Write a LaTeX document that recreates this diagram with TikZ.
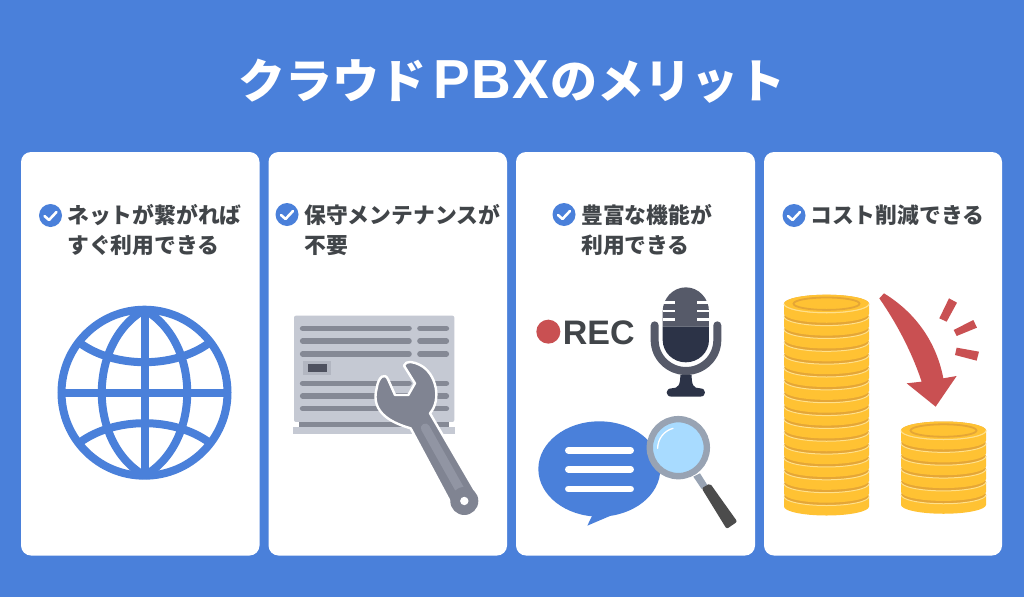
\documentclass[tikz,border=0pt]{standalone}
\usepackage{fontspec}
\newfontfamily\jpfont{Noto Sans CJK JP}
\setsansfont{Liberation Sans}
\usetikzlibrary{calc, positioning}
\definecolor{bgblue}{HTML}{4A80DA}
\definecolor{inkgray}{HTML}{414549}
\definecolor{panelgray}{HTML}{C5C9D3}
\definecolor{slotgray}{HTML}{858995}
\definecolor{wrenchgray}{HTML}{808492}
\definecolor{wrenchlight}{HTML}{9195A3}
\definecolor{micgray}{HTML}{565A69}
\definecolor{micdark}{HTML}{2C3347}
\definecolor{recred}{HTML}{C95052}
\definecolor{lensblue}{HTML}{A8DBFF}
\definecolor{ringgray}{HTML}{98A3B3}
\definecolor{coingold}{HTML}{FFC233}
\definecolor{coindark}{HTML}{E5A636}
\definecolor{coinlight}{HTML}{FFE08A}
\tikzset{
	card/.style={fill=white, draw=none, rounded corners=10pt},
	cardtext/.style={font=\jpfont\bfseries\fontsize{21.8}{30}\selectfont, text=inkgray, align=left, anchor=north west, inner sep=0pt},
	tick/.style={fill=bgblue, draw=none},
	slot/.style={line width=5.6pt, line cap=round, draw=slotgray},
	globeline/.style={line width=8pt, draw=bgblue},
}
% one coin of a stack, centre of its top face at (#1,#2)
\newcommand{\coinat}[2]{
	\fill[coingold] (#1-42.5,#2) -- (#1-42.5,#2+10) arc[start angle=180, end angle=0, x radius=42.5, y radius=9] -- (#1+42.5,#2) -- cycle;
	\fill[coindark] (#1,#2) ellipse[x radius=42.5, y radius=9];
	\draw[coinlight, line width=1pt] (#1-42.5,#2) arc[start angle=180, end angle=0, x radius=42.5, y radius=9];
}
\newcommand{\cointop}[2]{
	\fill[coingold] (#1,#2) ellipse[x radius=42.5, y radius=9];
	\draw[coindark, line width=1.8pt] (#1,#2) ellipse[x radius=33, y radius=6.2];
	\draw[coinlight, line width=1pt] (#1-42.5,#2) arc[start angle=180, end angle=0, x radius=42.5, y radius=9];
}
\newcommand{\tickmark}[2]{
	\fill[tick] (#1,#2) circle (11.5);
	\draw[white, line width=2.6pt, line cap=round, line join=round] (#1-6,#2+.5) -- (#1-1.5,#2+4.5) -- (#1+6,#2-3.5);
}

\begin{document}
\begin{tikzpicture}[x=1pt, y=-1pt]
	\fill[bgblue] (0,0) rectangle (1024,597);
	\useasboundingbox (0,0) rectangle (1024,597);

	\node[font=\jpfont\bfseries\fontsize{47}{47}\selectfont, text=white, inner sep=0pt] (title) at (512,81) {クラウド\hspace{7pt}{\sffamily\fontsize{55}{55}\selectfont P\hspace{1.5pt}B\hspace{1.5pt}X}\hspace{1pt}のメリット};

	\fill[card] (21,152) rectangle (259.5,555.5);
	\fill[card] (268.5,152) rectangle (507,555.5);
	\fill[card] (516,152) rectangle (755,555.5);
	\fill[card] (764,152) rectangle (1002,555.5);

	\tickmark{50.5}{215.5}
	\tickmark{287}{214.5}
	\tickmark{564}{214.5}
	\tickmark{794}{215.5}
	\node[cardtext] (netlabel) at (67,204) {ネットが繋がれば\\すぐ利用できる};
	\node[cardtext] (maintlabel) at (304,204) {保守メンテナンスが\\不要};
	\node[cardtext] (funclabel) at (581,204) {豊富な機能が\\利用できる};
	\node[cardtext] (costlabel) at (810,205) {コスト削減できる};

	% globe
	\begin{scope}[shift={(144.5,392.7)}]
		\draw[globeline] (0,0) circle (83);
		\draw[globeline] (0,-83) .. controls (-57,-50) and (-57,50) .. (0,83);
		\draw[globeline] (0,-83) .. controls (57,-50) and (57,50) .. (0,83);
		\draw[globeline] (0,-83) -- (0,83);
		\draw[globeline] (-83,0) -- (83,0);
		\draw[globeline] (-65,-50) .. controls (-30,-24) and (30,-24) .. (65,-50);
		\draw[globeline] (-65,50) .. controls (-30,24) and (30,24) .. (65,50);
	\end{scope}

	% panel and wrench
	\begin{scope}[shift={(280,300)}, x=.3333pt, y=-.3333pt]
		\fill[panelgray, rounded corners=2pt] (42,47) rectangle (523,366);
		\fill[slotgray] (57,366) rectangle (507,381);
		\fill[panelgray] (39,380) rectangle (524,401);
		\foreach \row in {85,123,162,250,288,326} {
			\draw[slot] (68,\row) -- (387,\row);
			\draw[slot] (420,\row) -- (499,\row);
		}
		\fill[panelgray!70!slotgray] (70,183) rectangle (152,225);
		\fill[micgray!90!black] (84,192) rectangle (140,216);
		\filldraw[wrenchgray, draw=white, line width=2.4pt, line join=round]
			(372,197) .. controls (378,180) and (400,185) .. (420,195)
			.. controls (470,220) and (485,300) .. (450,340)
			-- (590,580) .. controls (610,625) and (540,655) .. (515,615)
			-- (392,385) .. controls (340,370) and (270,340) .. (290,265)
			.. controls (295,230) and (315,215) .. (325,240)
			-- (345,285) -- (385,285) -- (405,250) -- cycle;
		\draw[wrenchlight, line width=9pt, line cap=round] (436,384) -- (545,578);
		\fill[wrenchgray] (553,603) circle (14pt);
		\fill[white] (553,603) circle (4.2pt);
	\end{scope}

	% rec, microphone, speech bubble, magnifier
	\begin{scope}[shift={(525,280)}, x=.3333pt, y=-.3333pt]
		\fill[recred] (70,155) circle (12pt);
		\node[font=\sffamily\bfseries\fontsize{34}{34}\selectfont, text=inkgray, anchor=west, inner sep=0pt] (rec) at (113,157) {REC};
		\fill[micgray] (413,140) -- (413,95) arc[start angle=180, end angle=360, x radius=69.5, y radius=73] -- (552,140) -- cycle;
		\fill[micdark] (413,140) -- (552,140) -- (552,180) arc[start angle=0, end angle=180, x radius=69.5, y radius=67] -- cycle;
		\foreach \row in {68,93,118} {
			\fill[white] (413,\row-4) rectangle (450,\row+4);
			\fill[white] (515,\row-4) rectangle (552,\row+4);
		}
		\draw[micgray, line width=8pt, line cap=round] (389,136) -- (389,180) arc[start angle=180, end angle=0, x radius=94, y radius=93] -- (577,136);
		\fill[micdark] (466,285) -- (500,285) .. controls (500,315) and (505,325) .. (525,325) .. controls (545,325) and (545,350) .. (525,350) -- (440,350) .. controls (420,350) and (420,325) .. (440,325) .. controls (460,325) and (466,315) .. (466,285) -- cycle;
		\fill[bgblue] (223,567) ellipse[x radius=183, y radius=143];
		\fill[bgblue] (205,700) -- (187,737) -- (255,708) -- cycle;
		\foreach \row in {511,568,627} {
			\draw[white, line width=6.6pt, line cap=round] (130,\row) -- (317,\row);
		}
		\fill[ringgray] (505,590) -- (525,580) -- (547,615) -- (530,627) -- cycle;
		\fill[black!70, rounded corners=2pt] (530,625) -- (555,610) -- (637,725) -- (605,747) -- cycle;
		\filldraw[fill=lensblue, draw=ringgray, line width=6.4pt] (460,503) circle (28.5pt);
		\draw[white, line width=1.3pt, line cap=round] (398,505) arc[start angle=180, end angle=255, radius=62];
	\end{scope}

	% coins and falling arrow
	\foreach \row in {0,...,15} {
		\pgfmathsetmacro{\ypos}{496.5-12.85*\row}
		\coinat{826.5}{\ypos}
	}
	\cointop{826.5}{303.7}
	\foreach \row in {0,...,5} {
		\pgfmathsetmacro{\ypos}{494.75-12.85*\row}
		\coinat{943.5}{\ypos}
	}
	\cointop{943.5}{430.5}
	\begin{scope}[shift={(770,280)}, x=.3333pt, y=-.3333pt]
		\fill[recred] (328,55) -- (342,40) .. controls (440,100) and (500,190) .. (520,295) -- (560,288) -- (497,380) -- (410,310) -- (455,305) .. controls (425,215) and (380,130) .. (328,55) -- cycle;
		\fill[recred] (537,55) -- (561,68) -- (530,125) -- (508,115) -- cycle;
		\fill[recred] (610,120) -- (621,143) -- (560,168) -- (551,150) -- cycle;
		\fill[recred] (560,203) -- (627,215) -- (620,242) -- (555,225) -- cycle;
	\end{scope}
\end{tikzpicture}
\end{document}
